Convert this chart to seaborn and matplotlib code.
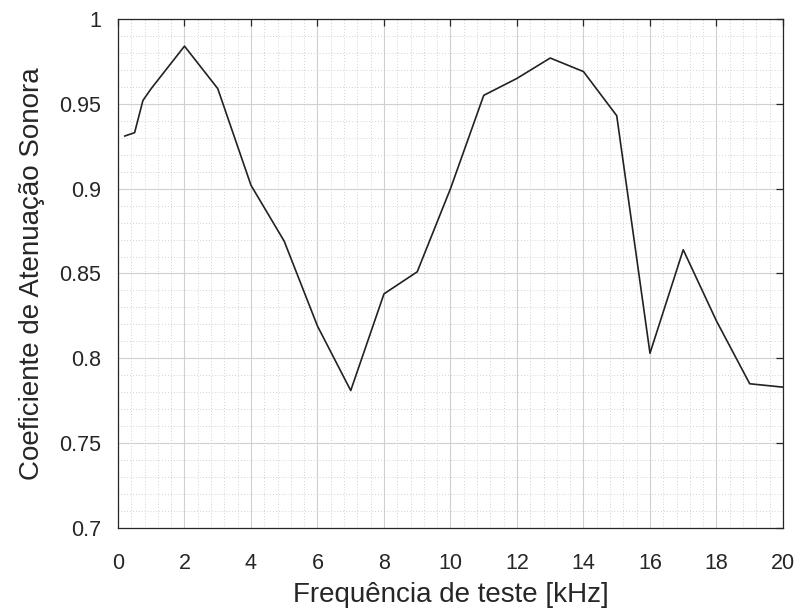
import matplotlib
matplotlib.use("Agg")
import matplotlib.pyplot as plt
from matplotlib.ticker import MultipleLocator, FuncFormatter
import seaborn as sns
import pandas as pd

# Test frequencies (kHz) and measured sound attenuation coefficient
freq_khz = [0.2, 0.5, 0.75, 1, 2, 3, 4, 5, 6, 7, 8, 9, 10, 11, 12, 13, 14, 15, 16, 17, 18, 19, 20]
attenuation = [0.931, 0.933, 0.952, 0.959, 0.984, 0.959, 0.902, 0.869, 0.819, 0.781, 0.838,
               0.851, 0.900, 0.955, 0.965, 0.977, 0.969, 0.943, 0.803, 0.864, 0.822, 0.785, 0.783]

x_ticks = [0, 2, 4, 6, 8, 10, 12, 14, 16, 18, 20]
y_ticks = [0.7, 0.75, 0.8, 0.85, 0.9, 0.95, 1.0]

sns.set_theme(style="white")
plt.rcParams["font.family"] = ["Liberation Sans", "DejaVu Sans"]

df = pd.DataFrame({"freq": freq_khz, "coef": attenuation})

fig = plt.figure(figsize=(8.01, 6.15), dpi=100)
ax = fig.add_axes([0.1473, 0.1415, 0.8302, 0.8276])

sns.lineplot(data=df, x="freq", y="coef", ax=ax, color="#222222", linewidth=1.2,
             estimator=None, sort=False)

ax.set_xlim(0, 20)
ax.set_ylim(0.7, 1.0)
ax.set_xticks(x_ticks)
ax.set_yticks(y_ticks)
ax.xaxis.set_minor_locator(MultipleLocator(0.4))
ax.yaxis.set_minor_locator(MultipleLocator(0.01))
ax.yaxis.set_major_formatter(FuncFormatter(lambda v, p: f"{v:g}"))

ax.grid(which="major", color="#d0d0d0", linewidth=0.8, linestyle="-")
ax.grid(which="minor", color="#c4c4c4", linewidth=0.6, linestyle=(0, (1, 2.5)))
ax.set_axisbelow(True)

ax.tick_params(which="major", direction="in", length=5, width=0.9, color="#262626",
               top=True, right=True, labelsize=15.5, labelcolor="#262626")
ax.tick_params(axis="x", which="major", pad=18)
ax.tick_params(axis="y", which="major", pad=12)
ax.tick_params(which="minor", length=0)

for s in ax.spines.values():
    s.set_color("#262626")
    s.set_linewidth(0.9)
    s.set_visible(True)

ax.set_xlabel("Frequência de teste [kHz]", fontsize=20, color="#262626", labelpad=6)
ax.set_ylabel("Coeficiente de Atenuação Sonora", fontsize=20, color="#262626", labelpad=10)

fig.savefig("out.png", dpi=100)
